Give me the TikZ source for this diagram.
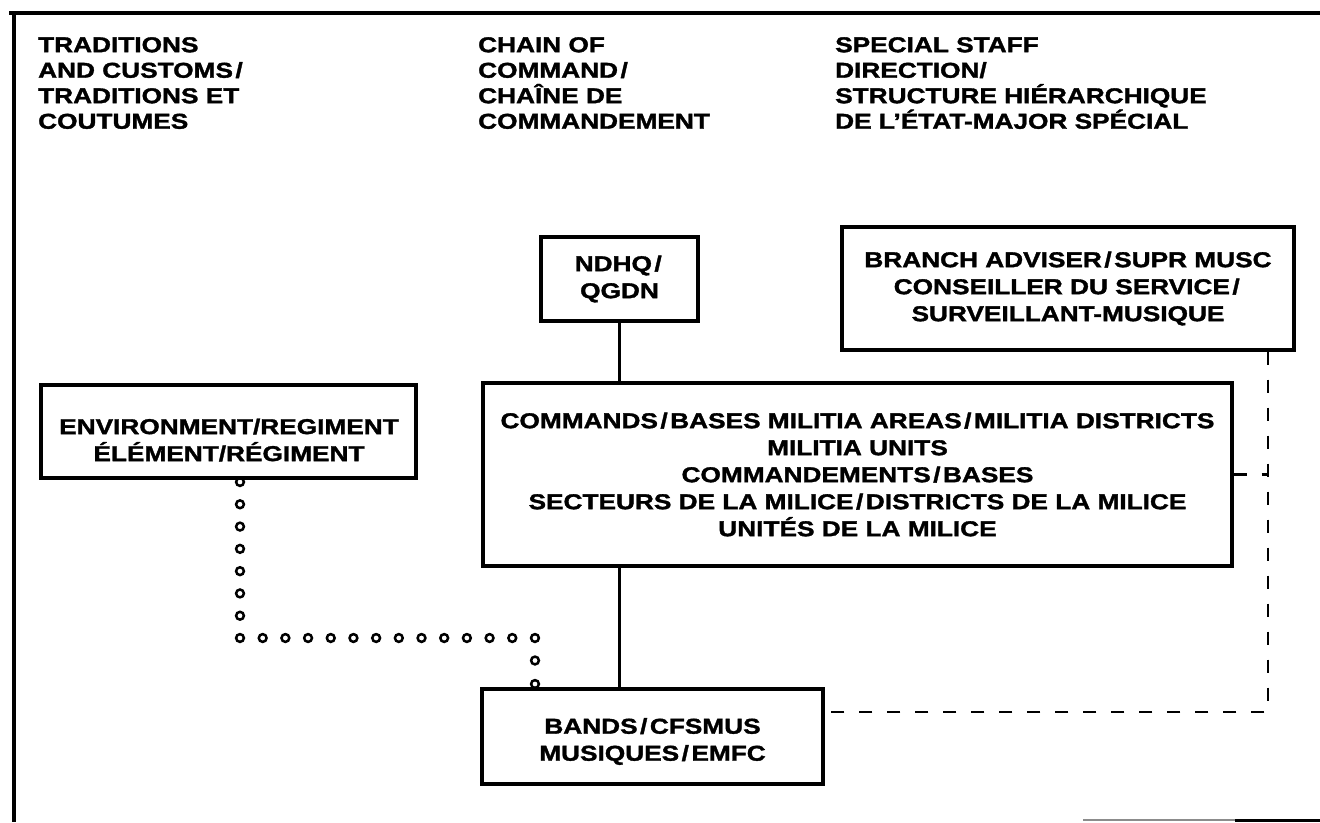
\documentclass[tikz,border=0pt]{standalone}
\usepackage{fontspec}
\setmainfont{Liberation Sans}[FakeStretch=1.22,FakeBold=1.6]
\newcommand\slsp{\kern2.5pt/\kern2.5pt}
\begin{document}
\begin{tikzpicture}[x=1pt,y=-1pt,
  box/.style={draw, line width=3.2pt, inner sep=0pt, align=center, font=\bfseries\fontsize{21.5}{27}\selectfont},
  txt/.style={inner sep=0pt, align=center, font=\bfseries\fontsize{21.5}{27}\selectfont},
  head/.style={anchor=north west, inner sep=0pt, align=left, font=\bfseries\fontsize{21.5}{25.5}\selectfont},
  link/.style={line width=2.8pt},
  dashlink/.style={line width=2.6pt, dash pattern=on 13pt off 15pt},
  ring/.style={line width=2.5pt},
]
\useasboundingbox (0,0) rectangle (1320,822);
% frame
\draw[line width=3.5pt] (9,13) -- (1320,13);
\draw[line width=3.5pt] (14,11.25) -- (14,822);
\draw[line width=2pt, black!45] (1083,820) -- (1235,820);
\draw[line width=3pt] (1235,820) -- (1320,820);
% headings
\node[head] (h1) at (38,37) {TRADITIONS\\AND CUSTOMS\slsp\\TRADITIONS ET\\COUTUMES};
\node[head] (h2) at (478,37) {CHAIN OF\\COMMAND\slsp\\CHAÎNE DE\\COMMANDEMENT};
\node[head] (h3) at (835,37) {SPECIAL STAFF\\DIRECTION/\\STRUCTURE HIÉRARCHIQUE\\DE L’ÉTAT-MAJOR SPÉCIAL};
% boxes
\node[box, minimum width=157pt, minimum height=84pt] (ndhq) at (619.5,279) {NDHQ\slsp\\QGDN};
\node[box, minimum width=452pt, minimum height=123pt] (branch) at (1068,288.5)
  {BRANCH ADVISER\slsp SUPR MUSC\\CONSEILLER DU SERVICE\slsp\\SURVEILLANT-MUSIQUE};
\node[box, minimum width=749pt, minimum height=183pt] (cmd) at (857.5,474.5)
  {COMMANDS\slsp BASES MILITIA AREAS\slsp MILITIA DISTRICTS\\MILITIA UNITS\\COMMANDEMENTS\slsp BASES\\SECTEURS DE LA MILICE\slsp DISTRICTS DE LA MILICE\\UNITÉS DE LA MILICE};
\node[box, minimum width=375pt, minimum height=93pt] (env) at (228.5,431.5) {};
\node[txt] (envtxt) at (229,440) {ENVIRONMENT/REGIMENT\\ÉLÉMENT/RÉGIMENT};
\node[box, minimum width=341pt, minimum height=95pt] (bands) at (652.5,736.5) {};
\node[txt] (bandstxt) at (652.5,741.5) {BANDS\slsp CFSMUS\\MUSIQUES\slsp EMFC};
% chain of command
\draw[link] (ndhq.south) -- (ndhq.south |- cmd.north);
\draw[link] (cmd.south -| ndhq.south) -- (bands.north -| ndhq.south);
% special staff (dashed)
\coordinate (dc) at (1268,712);
\draw[dashlink] (branch.south -| dc) -- (dc) -- (dc -| bands.east);
\draw[dashlink] (cmd.east) -- (cmd.east -| dc);
% traditions (ring-dotted)
\coordinate (d1) at (240,638);
\coordinate (d2) at (535,638);
\foreach \i in {0,...,7} \draw[ring] (240,{482+\i*22.286}) circle (3.9pt);
\foreach \j in {1,...,13} \draw[ring] ({240+\j*22.69},638) circle (3.9pt);
\foreach \k in {660.5,684} \draw[ring] (535,\k) circle (3.9pt);
\end{tikzpicture}
\end{document}
